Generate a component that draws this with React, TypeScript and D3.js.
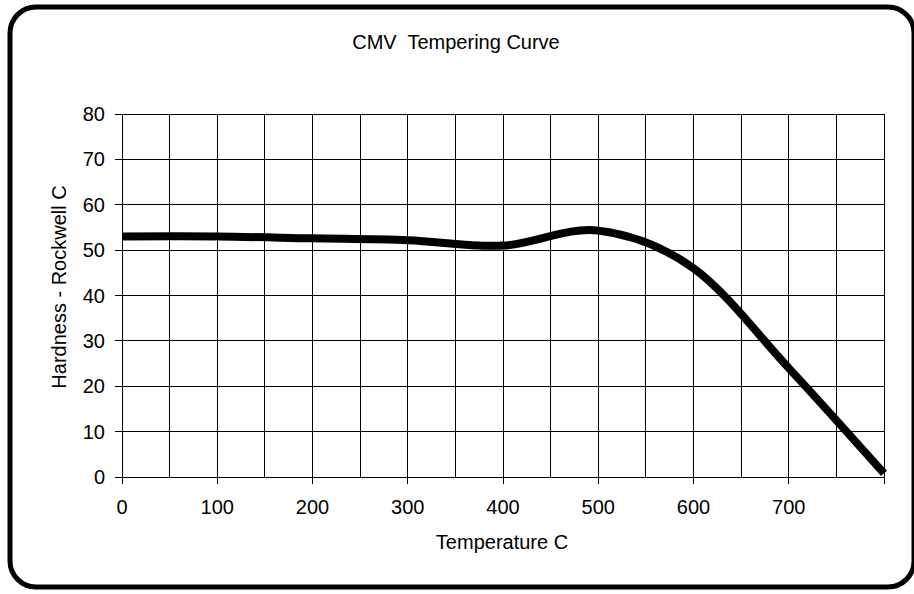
import React from 'react';
import * as d3 from 'd3';

// temperature (C) and hardness (HRC)
const temperatures = [0, 100, 200, 300, 400, 500, 600, 700, 800];
const hardness = [53, 53, 52.6, 52.2, 51, 54.3, 46, 24, 0.8];

const xGridValues = d3.range(0, 801, 50);
const xTickValues = [0, 100, 200, 300, 400, 500, 600, 700, 800];
const xTickLabels = ['0', '100', '200', '300', '400', '500', '600', '700', ''];
const yTickValues = [0, 10, 20, 30, 40, 50, 60, 70, 80];

const title = 'CMV  Tempering Curve';
const xTitle = 'Temperature C';
const yTitle = 'Hardness - Rockwell C';

const W = 914;
const H = 594;
const font = '"Liberation Sans", Arial, sans-serif';

const App: React.FC = () => {
  const x = d3.scaleLinear().domain([0, 800]).range([122, 884]);
  const y = d3.scaleLinear().domain([0, 80]).range([477, 114]);

  const line = d3
    .line<number>()
    .x((_, i) => x(temperatures[i]))
    .y(d => y(d))
    .curve(d3.curveCardinal.tension(0));

  return (
    <svg
      width={W}
      height={H}
      style={{ position: 'absolute', left: 0, top: 0, background: '#fff' }}
      fontFamily={font}
    >
      <rect x={10} y={7} width={904} height={580} rx={26} fill="#fff" stroke="#000" strokeWidth={5} />

      <text x={456} y={49} fontSize={20} textAnchor="middle" style={{ whiteSpace: 'pre' }}>
        {title}
      </text>

      {/* grid */}
      <g stroke="#000" strokeWidth={1} shapeRendering="crispEdges">
        {xGridValues.map(v => (
          <line key={'gx' + v} x1={x(v)} x2={x(v)} y1={y(80)} y2={y(0)} />
        ))}
        {yTickValues.map(v => (
          <line key={'gy' + v} x1={x(0) - 7} x2={x(800)} y1={y(v)} y2={y(v)} />
        ))}
        {xTickValues.map(v => (
          <line key={'tx' + v} x1={x(v)} x2={x(v)} y1={y(0)} y2={y(0) + 7} />
        ))}
      </g>

      {/* tick labels */}
      <g fontSize={20} fill="#000">
        {yTickValues.map(v => (
          <text key={'ly' + v} x={105} y={y(v) + 7} textAnchor="end">{v}</text>
        ))}
        {xTickValues.map((v, i) => (
          <text key={'lx' + v} x={x(v)} y={514} textAnchor="middle">{xTickLabels[i]}</text>
        ))}
      </g>

      <text x={502} y={549} fontSize={20} textAnchor="middle">{xTitle}</text>
      <text
        transform={`translate(66,${287}) rotate(-90)`}
        fontSize={20}
        textAnchor="middle"
      >
        {yTitle}
      </text>

      <path d={line(hardness) ?? ''} fill="none" stroke="#000" strokeWidth={8} />
    </svg>
  );
};

export default App;
